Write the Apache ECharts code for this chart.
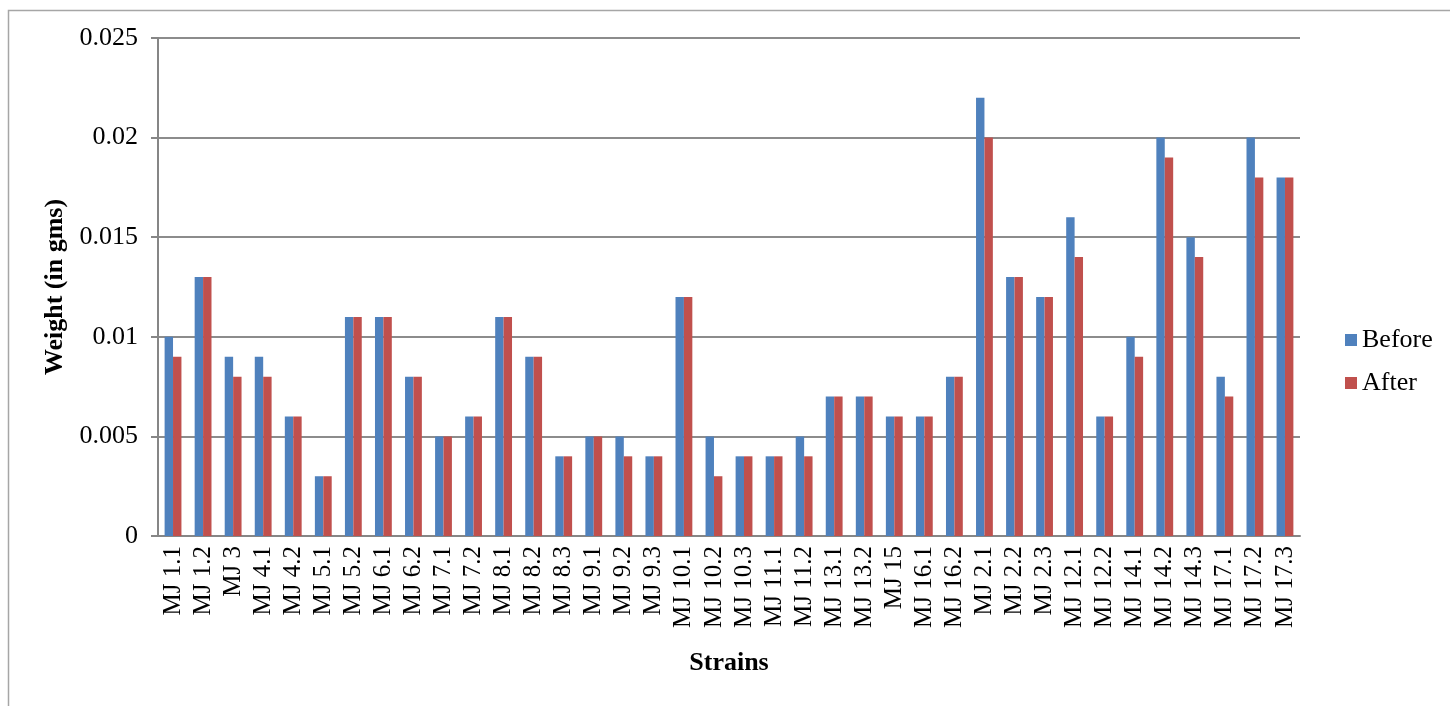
<!DOCTYPE html>
<html>
<head>
<meta charset="utf-8">
<script src="https://cdn.jsdelivr.net/npm/echarts@6/dist/echarts.min.js"></script>
<style>html,body{margin:0;padding:0;background:#fff}#c{width:1450px;height:706px}</style>
</head>
<body>
<div id="c"></div>
<script>
const categories = ["MJ 1.1","MJ 1.2","MJ 3","MJ 4.1","MJ 4.2","MJ 5.1","MJ 5.2","MJ 6.1","MJ 6.2","MJ 7.1","MJ 7.2","MJ 8.1","MJ 8.2","MJ 8.3","MJ 9.1","MJ 9.2","MJ 9.3","MJ 10.1","MJ 10.2","MJ 10.3","MJ 11.1","MJ 11.2","MJ 13.1","MJ 13.2","MJ 15","MJ 16.1","MJ 16.2","MJ 2.1","MJ 2.2","MJ 2.3","MJ 12.1","MJ 12.2","MJ 14.1","MJ 14.2","MJ 14.3","MJ 17.1","MJ 17.2","MJ 17.3"];
const before = [0.010,0.013,0.009,0.009,0.006,0.003,0.011,0.011,0.008,0.005,0.006,0.011,0.009,0.004,0.005,0.005,0.004,0.012,0.005,0.004,0.004,0.005,0.007,0.007,0.006,0.006,0.008,0.022,0.013,0.012,0.016,0.006,0.010,0.020,0.015,0.008,0.020,0.018];
const after = [0.009,0.013,0.008,0.008,0.006,0.003,0.011,0.011,0.008,0.005,0.006,0.011,0.009,0.004,0.005,0.004,0.004,0.012,0.003,0.004,0.004,0.004,0.007,0.007,0.006,0.006,0.008,0.020,0.013,0.012,0.014,0.006,0.009,0.019,0.014,0.007,0.018,0.018];
const yTicks = [0, 0.005, 0.01, 0.015, 0.02, 0.025];

const font = "'Liberation Serif','Times New Roman',serif";
const chart = echarts.init(document.getElementById('c'));
chart.setOption({
  animation: false,
  backgroundColor: '#fff',
  graphic: [{
    type: 'rect', shape: {x: 8.5, y: 10.5, width: 1460, height: 720},
    style: {fill: 'none', stroke: '#a6a6a6', lineWidth: 1.5}, silent: true, z: -10
  }],
  grid: {left: 158, right: 150, top: 38, bottom: 170},
  legend: {
    orient: 'vertical', left: 1340, top: 322, itemWidth: 12, itemHeight: 12, itemGap: 17,
    icon: 'rect',
    textStyle: {fontFamily: font, fontSize: 26, color: '#000'},
    data: ['Before', 'After']
  },
  xAxis: {
    type: 'category', data: categories,
    name: 'Strains', nameLocation: 'middle', nameGap: 114,
    nameTextStyle: {fontFamily: font, fontSize: 26, fontWeight: 'bold', color: '#000'},
    axisLine: {lineStyle: {color: '#868686', width: 2}},
    axisTick: {show: false},
    axisLabel: {rotate: 90, interval: 0, margin: 10, fontFamily: font, fontSize: 25, color: '#000'}
  },
  yAxis: {
    type: 'value', min: 0, max: 0.025, interval: 0.005,
    name: 'Weight (in gms)', nameLocation: 'middle', nameGap: 85,
    nameTextStyle: {fontFamily: font, fontSize: 26, fontWeight: 'bold', color: '#000'},
    axisLine: {show: true, lineStyle: {color: '#868686', width: 2}},
    axisTick: {show: true, length: 7, lineStyle: {color: '#868686', width: 2}},
    axisLabel: {margin: 20, fontFamily: font, fontSize: 26, color: '#000',
      formatter: v => { const t = yTicks.find(x => Math.abs(x - v) < 1e-9); return t === 0 ? '0' : String(+t.toFixed(3)); }},
    splitLine: {lineStyle: {color: '#8c8c8c', width: 2}}
  },
  series: [
    {name: 'Before', type: 'bar', data: before, barGap: '0%', barCategoryGap: '44%',
     itemStyle: {color: '#4F81BD'}},
    {name: 'After', type: 'bar', data: after, barGap: '0%', barCategoryGap: '44%',
     itemStyle: {color: '#C0504D'}}
  ]
});
</script>
</body>
</html>
